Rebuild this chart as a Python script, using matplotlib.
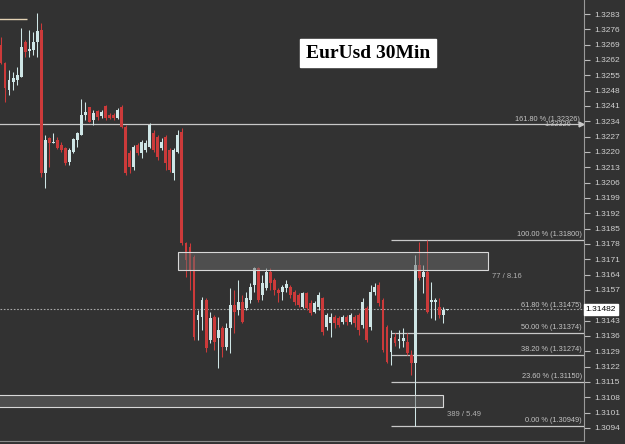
import matplotlib
matplotlib.use("Agg")
import matplotlib.pyplot as plt
import matplotlib.transforms as mtransforms
from matplotlib.patches import Rectangle

# EurUsd 30 min candles
opens = [1.32688, 1.32606, 1.32483, 1.32519, 1.32528, 1.32542, 1.32702, 1.32661, 1.32666, 1.32702,
         1.32757, 1.32103, 1.32263, 1.32241, 1.32254, 1.32231, 1.32218, 1.32154, 1.32199, 1.32254,
         1.32277, 1.32368, 1.32405, 1.32346, 1.32387, 1.32364, 1.32410, 1.32368, 1.32368, 1.32355,
         1.32405, 1.32314, 1.32195, 1.32131, 1.32231, 1.32195, 1.32209, 1.32222, 1.32286, 1.32268,
         1.32218, 1.32268, 1.32209, 1.32103, 1.32199, 1.32291, 1.31784, 1.31765, 1.31719, 1.31432,
         1.31445, 1.31523, 1.31340, 1.31445, 1.31349, 1.31395, 1.31308, 1.31395, 1.31500, 1.31477,
         1.31514, 1.31486, 1.31523, 1.31592, 1.31669, 1.31546, 1.31578, 1.31651, 1.31614, 1.31569,
         1.31560, 1.31578, 1.31582, 1.31560, 1.31546, 1.31491, 1.31555, 1.31509, 1.31468, 1.31491,
         1.31532, 1.31400, 1.31418, 1.31445, 1.31441, 1.31423, 1.31445, 1.31423, 1.31445, 1.31454,
         1.31409, 1.31486, 1.31400, 1.31560, 1.31592, 1.31523, 1.31400, 1.31285, 1.31354, 1.31336,
         1.31336, 1.31331, 1.31272, 1.31235, 1.31683, 1.31628, 1.31651, 1.31514, 1.31514, 1.31491,
         1.31454, 1.31477]
highs = [1.32725, 1.32611, 1.32574, 1.32565, 1.32588, 1.32766, 1.32711, 1.32757, 1.32748, 1.32835,
         1.32789, 1.32277, 1.32268, 1.32286, 1.32268, 1.32245, 1.32222, 1.32218, 1.32263, 1.32291,
         1.32442, 1.32428, 1.32405, 1.32391, 1.32391, 1.32391, 1.32414, 1.32378, 1.32378, 1.32400,
         1.32414, 1.32323, 1.32209, 1.32231, 1.32241, 1.32254, 1.32254, 1.32332, 1.32300, 1.32277,
         1.32263, 1.32277, 1.32218, 1.32218, 1.32300, 1.32309, 1.31788, 1.31784, 1.31729, 1.31477,
         1.31537, 1.31532, 1.31468, 1.31454, 1.31445, 1.31404, 1.31418, 1.31578, 1.31569, 1.31614,
         1.31546, 1.31560, 1.31601, 1.31674, 1.31674, 1.31637, 1.31669, 1.31669, 1.31624, 1.31578,
         1.31592, 1.31614, 1.31592, 1.31569, 1.31555, 1.31560, 1.31560, 1.31523, 1.31518, 1.31560,
         1.31537, 1.31464, 1.31464, 1.31454, 1.31450, 1.31454, 1.31454, 1.31464, 1.31454, 1.31464,
         1.31532, 1.31496, 1.31592, 1.31601, 1.31605, 1.31532, 1.31409, 1.31386, 1.31372, 1.31386,
         1.31395, 1.31372, 1.31295, 1.31729, 1.31788, 1.31683, 1.31797, 1.31605, 1.31532, 1.31532,
         1.31491, 1.31482]
lows = [1.32602, 1.32428, 1.32460, 1.32483, 1.32506, 1.32542, 1.32634, 1.32634, 1.32643, 1.32634,
        1.32085, 1.32035, 1.32131, 1.32241, 1.32213, 1.32199, 1.32140, 1.32140, 1.32195, 1.32222,
        1.32277, 1.32346, 1.32337, 1.32323, 1.32346, 1.32355, 1.32346, 1.32350, 1.32346, 1.32350,
        1.32309, 1.32094, 1.32103, 1.32117, 1.32186, 1.32172, 1.32199, 1.32218, 1.32199, 1.32163,
        1.32209, 1.32117, 1.32108, 1.32071, 1.32195, 1.31774, 1.31628, 1.31569, 1.31340, 1.31340,
        1.31386, 1.31285, 1.31327, 1.31295, 1.31212, 1.31263, 1.31295, 1.31281, 1.31372, 1.31454,
        1.31418, 1.31477, 1.31509, 1.31560, 1.31514, 1.31523, 1.31569, 1.31569, 1.31546, 1.31514,
        1.31523, 1.31560, 1.31532, 1.31500, 1.31491, 1.31486, 1.31477, 1.31454, 1.31464, 1.31477,
        1.31363, 1.31386, 1.31354, 1.31395, 1.31400, 1.31413, 1.31409, 1.31413, 1.31400, 1.31363,
        1.31395, 1.31331, 1.31386, 1.31546, 1.31496, 1.31285, 1.31235, 1.31226, 1.31313, 1.31304,
        1.31308, 1.31272, 1.31180, 1.30949, 1.31614, 1.31555, 1.31464, 1.31441, 1.31432, 1.31441,
        1.31418, 1.31477]
closes = [1.32606, 1.32492, 1.32528, 1.32538, 1.32551, 1.32679, 1.32656, 1.32670, 1.32702, 1.32752,
          1.32103, 1.32254, 1.32241, 1.32245, 1.32218, 1.32209, 1.32149, 1.32209, 1.32259, 1.32286,
          1.32368, 1.32382, 1.32337, 1.32378, 1.32359, 1.32382, 1.32355, 1.32355, 1.32355, 1.32391,
          1.32314, 1.32103, 1.32131, 1.32222, 1.32195, 1.32245, 1.32241, 1.32323, 1.32209, 1.32177,
          1.32245, 1.32149, 1.32117, 1.32209, 1.32277, 1.31784, 1.31706, 1.31660, 1.31354, 1.31454,
          1.31523, 1.31304, 1.31441, 1.31331, 1.31386, 1.31308, 1.31395, 1.31500, 1.31468, 1.31514,
          1.31423, 1.31532, 1.31582, 1.31669, 1.31523, 1.31601, 1.31651, 1.31601, 1.31569, 1.31555,
          1.31582, 1.31596, 1.31546, 1.31514, 1.31500, 1.31555, 1.31486, 1.31464, 1.31509, 1.31546,
          1.31377, 1.31454, 1.31445, 1.31418, 1.31409, 1.31445, 1.31423, 1.31454, 1.31418, 1.31386,
          1.31514, 1.31340, 1.31560, 1.31582, 1.31509, 1.31295, 1.31240, 1.31349, 1.31327, 1.31345,
          1.31349, 1.31281, 1.31235, 1.31683, 1.31624, 1.31651, 1.31468, 1.31523, 1.31523, 1.31454,
          1.31477, 1.31482]

fib_levels = [1.31800, 1.31475, 1.31374, 1.31274, 1.31150, 1.30949]
fib_labels = ["100.00 % (1.31800)", "61.80 % (1.31475)", "50.00 % (1.31374)",
              "38.20 % (1.31274)", "23.60 % (1.31150)", "0.00 % (1.30949)"]
ext_level = 1.32326
ext_label = "161.80 % (1.32326)"
last_price = 1.31482
old_level = 1.32807

zone_top = (1.31660, 1.31742)
zone_bottom = (1.31034, 1.31089)

price_ticks = [1.3283, 1.3276, 1.3269, 1.3262, 1.3255, 1.3248, 1.3241, 1.3234, 1.3227,
               1.3220, 1.3213, 1.3206, 1.3199, 1.3192, 1.3185, 1.3178, 1.3171, 1.3164,
               1.3157, 1.3150, 1.3143, 1.3136, 1.3129, 1.3122, 1.3115, 1.3108, 1.3101, 1.3094]

bg = "#323232"
up_col = "#cfe6e6"
dn_col = "#cc3a3a"
line_col = "#c8c8c8"
txt_col = "#c4c4c4"

plt.rcParams["font.family"] = ["Liberation Sans", "DejaVu Sans"]

fig = plt.figure(figsize=(6.25, 4.44), dpi=100, facecolor=bg)
ax = fig.add_axes([0, 3 / 444, 584 / 625, 441 / 444], facecolor=bg)

n = len(opens)
xs = list(range(n))
for i in xs:
    o, h, l, c = opens[i], highs[i], lows[i], closes[i]
    col = up_col if c >= o else dn_col
    ax.vlines(i, l, h, color=col, lw=0.75, zorder=3)
    body = max(abs(c - o), 0.00002)
    ax.bar(i, body, bottom=min(o, c), width=0.72, color=col, linewidth=0, zorder=3)

x_left, x_right = -0.25, 145.0
ax.set_xlim(x_left, x_right)
ax.set_ylim(1.30880, 1.32894)

# zones
ax.add_patch(Rectangle((44.0, zone_top[0]), 121.1 - 44.0, zone_top[1] - zone_top[0],
                       facecolor="#6a6a6a", alpha=0.5, edgecolor="none", zorder=4))
ax.add_patch(Rectangle((44.0, zone_top[0]), 121.1 - 44.0, zone_top[1] - zone_top[0],
                       facecolor="none", edgecolor="#d8d8d8", lw=0.8, zorder=4))
ax.add_patch(Rectangle((-3, zone_bottom[0]), 110.0 + 3, zone_bottom[1] - zone_bottom[0],
                       facecolor="#6a6a6a", alpha=0.5, edgecolor="none", zorder=4))
ax.add_patch(Rectangle((-3, zone_bottom[0]), 110.0 + 3, zone_bottom[1] - zone_bottom[0],
                       facecolor="none", edgecolor="#d8d8d8", lw=0.8, zorder=4))
ax.text(122.0, 1.31633, "77 / 8.16", color="#b0b0b0", fontsize=5.5, va="center", ha="left")
ax.text(110.9, 1.31002, "389 / 5.49", color="#b0b0b0", fontsize=5.5, va="center", ha="left")

# fib levels
trans = mtransforms.blended_transform_factory(ax.transAxes, ax.transData)
for lvl, lab in zip(fib_levels, fib_labels):
    if not lab.startswith("61.80"):
        ax.hlines(lvl, 97.0, x_right, color=line_col, lw=0.9, zorder=2)
    ax.annotate(lab, xy=(0.996, lvl), xycoords=trans, xytext=(0, 1.2), textcoords="offset points",
                ha="right", va="bottom", fontsize=5.3, color=txt_col)

ax.axhline(ext_level, color=line_col, lw=0.9, zorder=2)
ax.annotate(ext_label, xy=(0.993, ext_level), xycoords=trans, xytext=(0, 1.2), textcoords="offset points",
            ha="right", va="bottom", fontsize=5.3, color=txt_col)
ax.text(0.955, ext_level, "1.32326", transform=trans, ha="center", va="center",
        fontsize=5.3, color=txt_col)
ax.plot([0.995], [ext_level], transform=trans, marker=">", ms=3.5, color=line_col, clip_on=False)

ax.axhline(last_price, color="#a8a8a8", lw=0.8, dashes=(1.5, 1.5), zorder=2)
ax.hlines(old_level, -1, 6.5, color="#e4d2b4", lw=1.0)

# price axis (1.3150 label sits under the last-price box)
ax.yaxis.tick_right()
ax.set_yticks(price_ticks)
ax.set_yticklabels(["" if abs(v - 1.3150) < 1e-6 else "%.4f" % v for v in price_ticks])
ax.tick_params(axis="y", colors="#bdbdbd", labelsize=6, length=4.5, width=0.8, pad=3, labelcolor="#d0d0d0")
ax.set_xticks([])
for side in ["top", "left"]:
    ax.spines[side].set_visible(False)
ax.spines["right"].set_color("#9a9a9a")
ax.spines["bottom"].set_color("#8a8a8a")

ax.text(1.003, last_price, "1.31482", transform=trans, ha="left", va="center", fontsize=6,
        color="black", clip_on=False, zorder=10,
        bbox=dict(boxstyle="square,pad=0.25", fc="white", ec="white"))

fig.text(368 / 625, 1 - 53 / 444, "EurUsd 30Min", ha="center", va="center", fontsize=14,
         fontweight="bold", family="Liberation Serif", color="black",
         bbox=dict(boxstyle="square,pad=0.3", fc="white", ec="white"))

fig.savefig("out.png", dpi=100, facecolor=bg)
